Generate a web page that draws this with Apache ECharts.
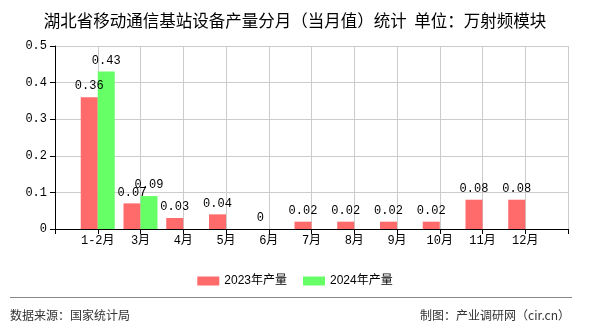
<!DOCTYPE html>
<html><head><meta charset="utf-8">
<script src="https://cdn.jsdelivr.net/npm/echarts@6/dist/echarts.min.js"></script>
<style>html,body{margin:0;padding:0;background:#fff}#c{width:590px;height:330px}</style>
</head><body><div id="c"></div>
<script>
const categories = ['1-2月','3月','4月','5月','6月','7月','8月','9月','10月','11月','12月'];
const values2023 = [0.36, 0.07, 0.03, 0.04, 0, 0.02, 0.02, 0.02, 0.02, 0.08, 0.08];
const values2024 = [0.43, 0.09, null, null, null, null, null, null, null, null, null];
const seriesNames = ['2023年产量', '2024年产量'];
const yTicks = [0, 0.1, 0.2, 0.3, 0.4, 0.5];

const monoFont = "'Liberation Mono','Noto Sans CJK SC',monospace";
const cjk = "'Noto Sans CJK SC','Liberation Sans',sans-serif";

function toPairs(vals){ return vals.map((v,i)=>[i+1, v]); }

const chart = echarts.init(document.getElementById('c'), null, {renderer:'canvas'});
chart.setOption({
  animation:false,
  backgroundColor:'#fff',
  title:{text:'湖北省移动通信基站设备产量分月（当月值）统计  单位：万射频模块', left:'center', top:7,
    textStyle:{fontSize:16.5, fontWeight:'normal', color:'#000', fontFamily:cjk}},
  grid:{left:55, right:22, top:46, bottom:101},
  legend:{data:seriesNames, left:'center', top:270, itemWidth:22, itemHeight:9, itemGap:16,
    textStyle:{fontSize:12, color:'#000', fontFamily:"'Liberation Sans','Noto Sans CJK SC',sans-serif"}, icon:'rect'},
  xAxis:{type:'value', min:0, max:categories.length+1, interval:1,
    axisLine:{lineStyle:{color:'#000'}}, axisTick:{show:true, length:5, lineStyle:{color:'#000'}},
    splitLine:{show:true, lineStyle:{color:'#ccc'}},
    axisLabel:{color:'#000', fontSize:12, fontFamily:monoFont, margin:6,
      formatter:function(v){ return categories[v-1] || ''; }}},
  yAxis:{type:'value', min:yTicks[0], max:yTicks[yTicks.length-1], interval:0.1,
    axisLine:{show:true, lineStyle:{color:'#000'}}, axisTick:{show:true, length:5, lineStyle:{color:'#000'}},
    splitLine:{show:true, lineStyle:{color:'#ccc'}},
    axisLabel:{color:'#000', fontSize:12, fontFamily:monoFont, margin:8,
      formatter:function(v){ return String(Math.round(v*10)/10); }}},
  series:[
    {name:seriesNames[0], type:'bar', data:toPairs(values2023), barWidth:17, barGap:'0%',
      itemStyle:{color:'#FF6A6A'},
      label:{show:true, position:'top', distance:5, color:'#000', fontSize:12, fontFamily:monoFont}},
    {name:seriesNames[1], type:'bar', data:toPairs(values2024), barWidth:17, barGap:'0%',
      itemStyle:{color:'#66FF66'},
      label:{show:true, position:'top', distance:5, color:'#000', fontSize:12, fontFamily:monoFont}}
  ],
  graphic:[
    {type:'line', shape:{x1:10, y1:297.5, x2:572, y2:297.5}, style:{stroke:'#888', lineWidth:1}},
    {type:'text', left:10, top:309, style:{text:'数据来源：国家统计局', fontSize:12, fill:'#333', fontFamily:cjk}},
    {type:'text', right:20, top:309, style:{text:'制图：产业调研网（cir.cn）', fontSize:12, fill:'#333', fontFamily:cjk}}
  ]
});
</script></body></html>
